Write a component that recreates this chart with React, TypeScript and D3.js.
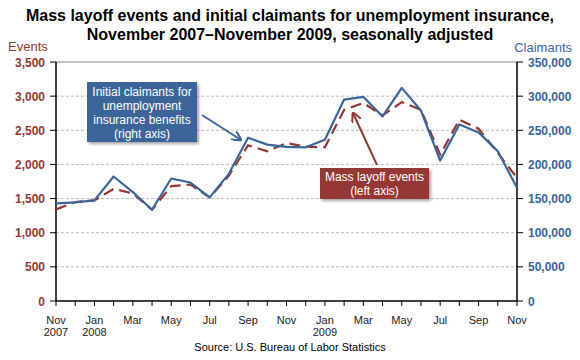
import React from "react";
import * as d3 from "d3";

const months = [
  "Nov 2007","Dec 2007","Jan 2008","Feb 2008","Mar 2008","Apr 2008","May 2008","Jun 2008","Jul 2008","Aug 2008","Sep 2008","Oct 2008","Nov 2008","Dec 2008",
  "Jan 2009","Feb 2009","Mar 2009","Apr 2009","May 2009","Jun 2009","Jul 2009","Aug 2009","Sep 2009","Oct 2009","Nov 2009",
];
const events = [1342,1450,1473,1643,1575,1337,1682,1706,1517,1837,2280,2192,2314,2260,2251,2800,2900,2718,2912,2800,2144,2654,2523,2168,1804];
const claimants = [142900,144400,147300,182300,159500,133700,179400,173500,151700,186200,239200,229000,225600,225100,236200,295000,299000,270300,312100,279000,205600,258600,246900,219200,165800];
const leftTicks = [0,500,1000,1500,2000,2500,3000,3500];
const rightTicks = [0,50000,100000,150000,200000,250000,300000,350000];
const xLabels: [number, string, string][] = [
  [0,"Nov","2007"],[2,"Jan","2008"],[4,"Mar",""],[6,"May",""],[8,"Jul",""],[10,"Sep",""],[12,"Nov",""],
  [14,"Jan","2009"],[16,"Mar",""],[18,"May",""],[20,"Jul",""],[22,"Sep",""],[24,"Nov",""],
];

const RED = "#953735";
const BLUE = "#3A6599";
const FONT = "'Liberation Sans', Arial, sans-serif";

export default function App() {
  const L = 56, R = 517, T = 62, B = 301;
  const x = d3.scaleLinear().domain([0, months.length - 1]).range([L, R]);
  const yL = d3.scaleLinear().domain([0, 3500]).range([B, T]);
  const yR = d3.scaleLinear().domain([0, 350000]).range([B, T]);
  const fmt = d3.format(",");
  const lineE = d3.line<number>().x((_, i) => x(i)).y((d) => yL(d));
  const lineC = d3.line<number>().x((_, i) => x(i)).y((d) => yR(d));

  return (
    <svg width={580} height={360} style={{ position: "absolute", left: 0, top: 0, fontFamily: FONT }}>
      <defs>
        <marker id="arB" viewBox="0 0 10 10" refX="9" refY="5" markerWidth="5" markerHeight="5" orient="auto">
          <path d="M0,0 L10,5 L0,10" fill="none" stroke={BLUE} strokeWidth={2} />
        </marker>
        <marker id="arR" viewBox="0 0 10 10" refX="9" refY="5" markerWidth="5" markerHeight="5" orient="auto">
          <path d="M0,0 L10,5 L0,10" fill="none" stroke={RED} strokeWidth={2} />
        </marker>
        <filter id="sh" x="-10%" y="-10%" width="130%" height="140%">
          <feDropShadow dx="2" dy="2" stdDeviation="1.5" floodColor="#000" floodOpacity="0.35" />
        </filter>
      </defs>
      <rect width={580} height={360} fill="#fff" />
      <text x={290} y={21} textAnchor="middle" fontSize={16} fontWeight="bold" fill="#000">
        Mass layoff events and initial claimants for unemployment insurance,
      </text>
      <text x={290} y={40} textAnchor="middle" fontSize={16} fontWeight="bold" fill="#000">
        November 2007–November 2009, seasonally adjusted
      </text>
      <text x={8} y={51} fontSize={13} fill={RED}>Events</text>
      <text x={572} y={52} textAnchor="end" fontSize={13} fill={BLUE}>Claimants</text>

      {leftTicks.slice(1).map((t) => (
        <line key={"g" + t} x1={L} x2={R} y1={yL(t)} y2={yL(t)}
          stroke={t === 3500 ? "#888" : "#bbb"} strokeWidth={1} strokeDasharray={t === 3500 ? undefined : "3,2"} />
      ))}
      {leftTicks.map((t) => (
        <g key={"l" + t}>
          <line x1={L - 6} x2={L} y1={yL(t)} y2={yL(t)} stroke="#000" />
          <text x={L - 11} y={yL(t) + 4.5} textAnchor="end" fontSize={12} fontWeight="bold" fill={RED}>{fmt(t)}</text>
        </g>
      ))}
      {rightTicks.map((t) => (
        <g key={"r" + t}>
          <line x1={R} x2={R + 6} y1={yR(t)} y2={yR(t)} stroke="#000" />
          <text x={R + 11} y={yR(t) + 4.5} textAnchor="start" fontSize={12} fontWeight="bold" fill={BLUE}>{fmt(t)}</text>
        </g>
      ))}
      {months.map((m, i) => (
        <line key={"xt" + m} x1={x(i)} x2={x(i)} y1={B} y2={B + 5} stroke="#000" />
      ))}
      <line x1={L} x2={L} y1={T} y2={B} stroke="#000" strokeWidth={1.5} />
      <line x1={R} x2={R} y1={T} y2={B} stroke="#000" strokeWidth={1.5} />
      <line x1={L} x2={R} y1={B} y2={B} stroke="#000" strokeWidth={1.5} />
      {xLabels.map(([i, a, b]) => (
        <g key={"xl" + i}>
          <text x={x(i)} y={324} textAnchor="middle" fontSize={11} fill="#222">{a}</text>
          {b && <text x={x(i)} y={336} textAnchor="middle" fontSize={11} fill="#222">{b}</text>}
        </g>
      ))}

      <path d={lineE(events) || ""} fill="none" stroke={RED} strokeWidth={2.2} strokeDasharray="11,6" />
      <path d={lineC(claimants) || ""} fill="none" stroke={BLUE} strokeWidth={2.2} strokeLinejoin="round" />

      <line x1={202} y1={115} x2={241} y2={140} stroke={BLUE} strokeWidth={2} markerEnd="url(#arB)" />
      <rect x={87} y={82} width={110} height={60} fill={BLUE} filter="url(#sh)" />
      {["Initial claimants for", "unemployment", "insurance benefits", "(right axis)"].map((s, k) => (
        <text key={s} x={142} y={96 + k * 14} textAnchor="middle" fontSize={12} fill="#fff">{s}</text>
      ))}

      <line x1={377} y1={165} x2={353} y2={113} stroke={RED} strokeWidth={2} markerEnd="url(#arR)" />
      <rect x={320} y={168} width={109} height={31} fill={RED} filter="url(#sh)" />
      {["Mass layoff events", "(left axis)"].map((s, k) => (
        <text key={s} x={374.5} y={181 + k * 14} textAnchor="middle" fontSize={12} fill="#fff">{s}</text>
      ))}

      <text x={290} y={351} textAnchor="middle" fontSize={11} fill="#000">Source: U.S. Bureau of Labor Statistics</text>
    </svg>
  );
}
